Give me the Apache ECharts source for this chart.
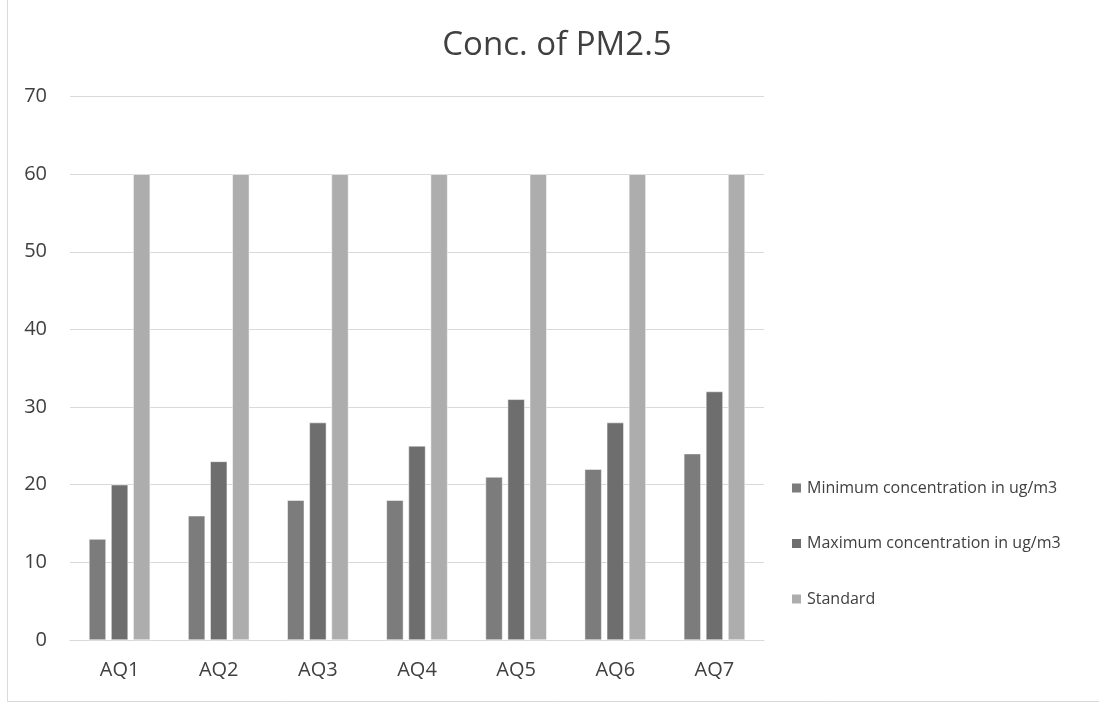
<!DOCTYPE html>
<html>
<head>
<meta charset="utf-8">
<script src="https://cdn.jsdelivr.net/npm/echarts@6/dist/echarts.min.js"></script>
<style>
html,body{margin:0;padding:0;background:#fff;}
#c{width:1099px;height:706px;}
</style>
</head>
<body>
<div id="c"></div>
<script>
var categories = ['AQ1','AQ2','AQ3','AQ4','AQ5','AQ6','AQ7'];
var minConc = [13,16,18,18,21,22,24];
var maxConc = [20,23,28,25,31,28,32];
var standard = [60,60,60,60,60,60,60];
var seriesNames = ['Minimum concentration in ug/m3','Maximum concentration in ug/m3','Standard'];
var colors = ['#7c7c7c','#6e6e6e','#adadad'];

var FONT = 'Open Sans';
var chart = echarts.init(document.getElementById('c'));
var barStyle = {borderColor:'#ffffff', borderWidth:0.5};
chart.setOption({
  animation:false,
  color: colors,
  title:{
    text:'Conc. of PM2.5',
    left:552, top:24, textAlign:'center',
    textStyle:{fontFamily:FONT, fontSize:33, fontWeight:'normal', color:'#404040'}
  },
  legend:{
    orient:'vertical',
    left:790, top:480, padding:0,
    itemWidth:11, itemHeight:11, itemGap:39.5,
    icon:'rect',
    textStyle:{fontFamily:FONT, fontSize:16, color:'#404040'},
    data: seriesNames
  },
  grid:{left:70, right:335, top:96.5, bottom:66},
  xAxis:{
    type:'category',
    data:categories,
    axisLine:{lineStyle:{color:'#d9d9d9', width:1}},
    axisTick:{show:false},
    axisLabel:{fontFamily:FONT, fontSize:20, color:'#404040', margin:20}
  },
  yAxis:{
    type:'value', min:0, max:70, interval:10,
    axisLine:{show:false}, axisTick:{show:false},
    splitLine:{lineStyle:{color:'#d9d9d9', width:1}},
    axisLabel:{fontFamily:FONT, fontSize:20, color:'#404040', margin:23}
  },
  series:[
    {name:seriesNames[0], type:'bar', data:minConc, barWidth:17, barGap:'30%', itemStyle:barStyle},
    {name:seriesNames[1], type:'bar', data:maxConc, barWidth:17, barGap:'30%', itemStyle:barStyle},
    {name:seriesNames[2], type:'bar', data:standard, barWidth:17, barGap:'30%', itemStyle:barStyle}
  ],
  graphic:[
    {type:'line', shape:{x1:7.5,y1:0,x2:7.5,y2:701.5}, style:{stroke:'#d9d9d9', lineWidth:1}},
    {type:'line', shape:{x1:7.5,y1:701.5,x2:1099,y2:701.5}, style:{stroke:'#d9d9d9', lineWidth:1}}
  ]
});
</script>
</body>
</html>
